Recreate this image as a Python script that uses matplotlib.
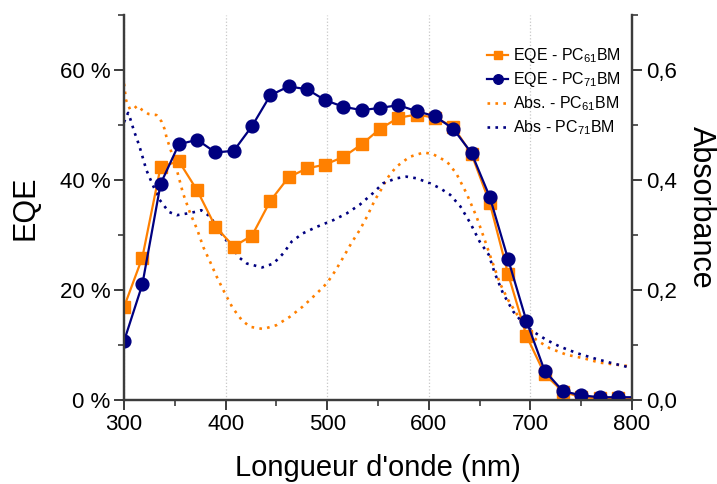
import matplotlib
matplotlib.use("Agg")
import matplotlib.pyplot as plt
from matplotlib.ticker import MultipleLocator, FuncFormatter

plt.rcParams['font.family'] = ['Liberation Sans', 'DejaVu Sans']
plt.rcParams['mathtext.fontset'] = 'custom'
plt.rcParams['mathtext.rm'] = 'Liberation Sans'
plt.rcParams['mathtext.it'] = 'Liberation Sans:italic'
plt.rcParams['mathtext.bf'] = 'Liberation Sans:bold'

# ---- data ----
wl_eqe = [300, 318, 336, 354, 372, 390, 408, 426, 444, 462, 480, 498, 516, 534,
          552, 570, 588, 606, 624, 642, 660, 678, 696, 714, 732, 750, 768, 786, 800]
eqe_pc61 = [16.9, 25.9, 42.4, 43.4, 38.1, 31.5, 27.9, 29.9, 36.2, 40.5, 42.1, 42.8, 44.2, 46.5,
            49.3, 51.3, 51.9, 51.3, 49.7, 44.7, 35.8, 22.9, 11.7, 4.7, 1.5, 0.5, 0.3, 0.3, 0.3]
eqe_pc71 = [10.7, 21.0, 39.3, 46.5, 47.3, 45.0, 45.3, 49.8, 55.4, 57.0, 56.5, 54.5, 53.3, 52.7,
            53.1, 53.6, 52.5, 51.6, 49.3, 44.9, 36.9, 25.6, 14.4, 5.3, 1.6, 0.85, 0.5, 0.5, 0.5]

wl_abs61 = [300, 302, 306, 310, 313, 318, 324, 332, 337, 340, 342, 345, 352, 358, 365, 372,
            378, 385, 391, 399, 407, 416, 424, 437, 450, 463, 476, 483, 492, 500, 508, 516,
            524, 532, 539, 547, 552, 559, 568, 581, 595, 604, 618, 627, 637, 647, 655, 660,
            670, 678, 687, 696, 706, 719, 736, 752, 768, 785, 800]
abs_pc61 = [0.575, 0.545, 0.528, 0.530, 0.535, 0.527, 0.520, 0.518, 0.506, 0.492, 0.476, 0.460,
            0.418, 0.376, 0.340, 0.310, 0.278, 0.250, 0.225, 0.195, 0.167, 0.145, 0.133, 0.129,
            0.136, 0.151, 0.170, 0.182, 0.198, 0.213, 0.235, 0.260, 0.286, 0.309, 0.333, 0.364,
            0.379, 0.403, 0.424, 0.442, 0.450, 0.447, 0.433, 0.412, 0.376, 0.333, 0.291, 0.264,
            0.212, 0.182, 0.155, 0.127, 0.109, 0.094, 0.082, 0.076, 0.068, 0.064, 0.061]

wl_abs71 = [300, 304, 306, 308, 310, 313, 316, 322, 329, 335, 344, 352, 362, 370, 376, 385,
            391, 399, 408, 414, 421, 436, 447, 457, 465, 476, 490, 506, 519, 532, 545, 555,
            568, 578, 588, 601, 611, 621, 631, 641, 650, 659, 665, 673, 683, 693, 703, 716,
            729, 746, 762, 778, 800]
abs_pc71 = [0.505, 0.522, 0.512, 0.500, 0.488, 0.473, 0.456, 0.418, 0.388, 0.364, 0.342, 0.336,
            0.339, 0.342, 0.345, 0.333, 0.315, 0.294, 0.273, 0.258, 0.248, 0.241, 0.248, 0.267,
            0.288, 0.303, 0.315, 0.327, 0.339, 0.355, 0.376, 0.394, 0.403, 0.406, 0.403, 0.394,
            0.385, 0.373, 0.352, 0.321, 0.288, 0.264, 0.230, 0.194, 0.161, 0.139, 0.124, 0.109,
            0.097, 0.085, 0.076, 0.068, 0.058]

x_ticks = [300, 400, 500, 600, 700, 800]
eqe_ticks = [0, 20, 40, 60]
abs_ticks = [0.0, 0.2, 0.4, 0.6]

labels = ['EQE - PC$_{61}$BM', 'EQE - PC$_{71}$BM', 'Abs. - PC$_{61}$BM', 'Abs - PC$_{71}$BM']

ORANGE = '#FF8000'
NAVY = '#000080'
SPINE = '#3c3c3c'

fig = plt.figure(figsize=(7.17, 4.84), dpi=100)
ax = fig.add_axes([0.173, 0.1736, 0.7085, 0.7955])
ax2 = ax.twinx()

# dotted absorbance on right axis
l3, = ax2.plot(wl_abs61, abs_pc61, color=ORANGE, lw=1.9, dashes=(1, 2))
l4, = ax2.plot(wl_abs71, abs_pc71, color=NAVY, lw=1.9, dashes=(1, 2))

# EQE on left axis (drawn on top)
ax.set_zorder(ax2.get_zorder() + 1)
ax.patch.set_visible(False)
l1, = ax.plot(wl_eqe, eqe_pc61, '-', color=ORANGE, lw=1.6, marker='s', ms=8.3,
              markevery=list(range(len(wl_eqe) - 1)))
l2, = ax.plot(wl_eqe, eqe_pc71, '-', color=NAVY, lw=1.6, marker='o', ms=9.2,
              markevery=list(range(len(wl_eqe) - 1)))

ax.set_xlim(300, 800)
ax.set_ylim(0, 70)
ax2.set_ylim(0, 0.7)

ax.set_xticks(x_ticks)
ax.xaxis.set_minor_locator(MultipleLocator(50))
ax.set_yticks(eqe_ticks)
ax.yaxis.set_minor_locator(MultipleLocator(10))
ax.yaxis.set_major_formatter(FuncFormatter(lambda v, p: f"{v:.0f} %"))
ax2.set_yticks(abs_ticks)
ax2.yaxis.set_minor_locator(MultipleLocator(0.1))
ax2.yaxis.set_major_formatter(FuncFormatter(lambda v, p: f"{v:.1f}".replace('.', ',')))

for a in (ax, ax2):
    a.spines['top'].set_visible(False)
    for s in ('left', 'right', 'bottom'):
        a.spines[s].set_color(SPINE)
        a.spines[s].set_linewidth(1.6)
    a.tick_params(which='major', direction='out', length=7, width=1.4, color=SPINE,
                  labelsize=16, pad=3)
    a.tick_params(which='minor', direction='out', length=4, width=1.2, color=SPINE)

ax.grid(axis='x', which='major', color='#c8c8c8', ls=':', lw=0.9)

ax.set_xlabel("Longueur d'onde (nm)", fontsize=21, labelpad=14)
ax.set_ylabel("EQE", fontsize=22, labelpad=14)
ax2.set_ylabel("Absorbance", fontsize=22, rotation=270, labelpad=28)

leg = ax.legend([l1, l2, l3, l4], labels, loc='upper right',
                bbox_to_anchor=(1.0, 0.948), frameon=False, fontsize=11.5,
                handlelength=1.3, handletextpad=0.3, markerscale=0.75,
                labelspacing=0.33, borderaxespad=0.3)

fig.savefig("out.png", dpi=100)
